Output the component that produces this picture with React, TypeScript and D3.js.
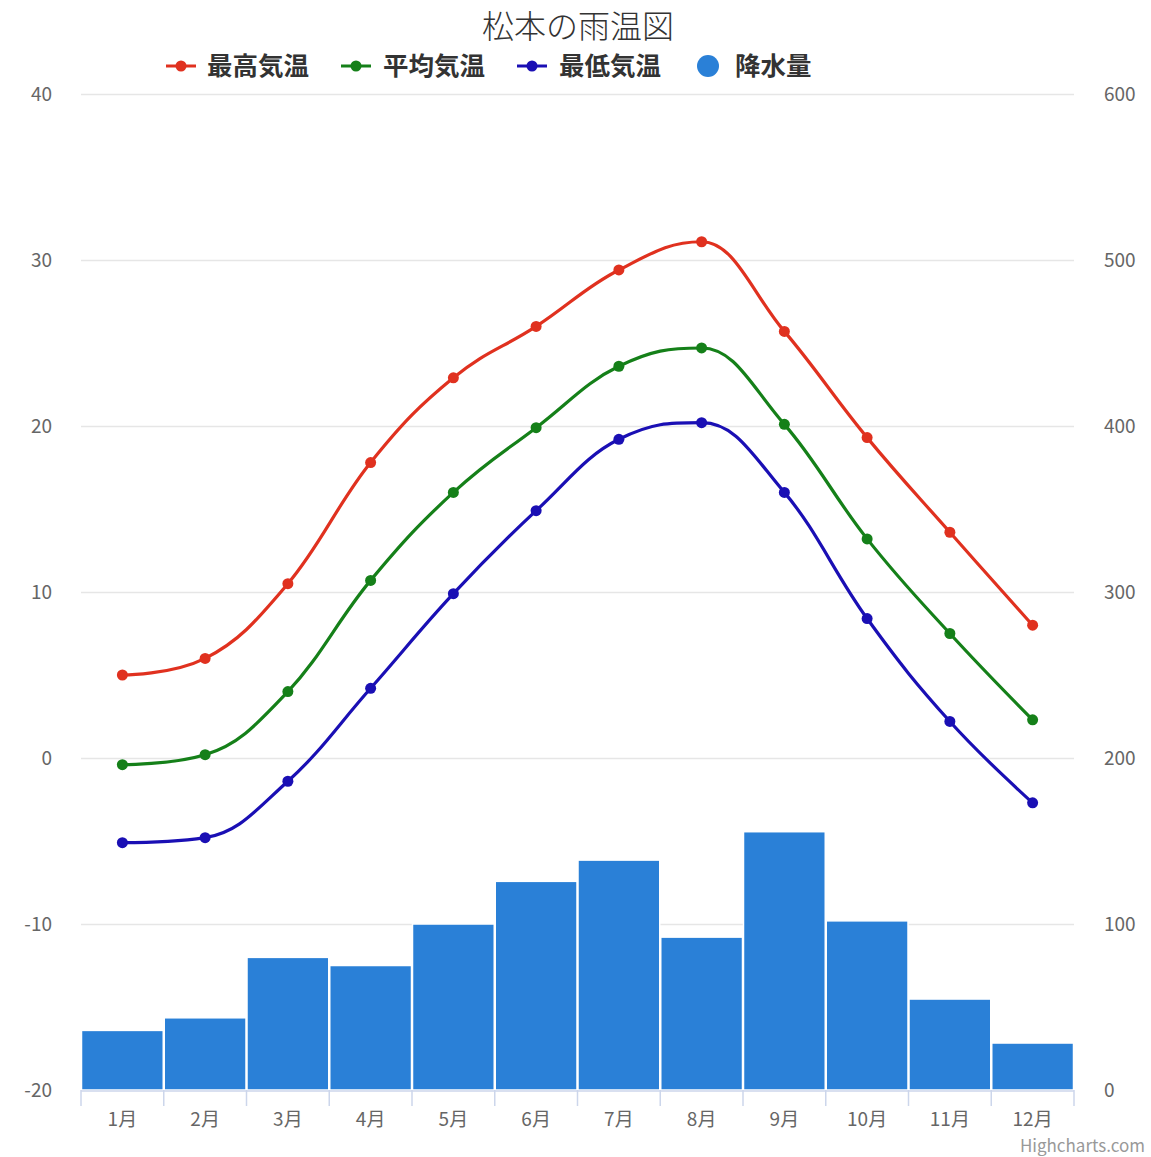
import React from "react";
import * as d3 from "d3";

const months = ["1月", "2月", "3月", "4月", "5月", "6月", "7月", "8月", "9月", "10月", "11月", "12月"];
const maxTemp = [5.0, 6.0, 10.5, 17.8, 22.9, 26.0, 29.4, 31.1, 25.7, 19.3, 13.6, 8.0];
const avgTemp = [-0.4, 0.2, 4.0, 10.7, 16.0, 19.9, 23.6, 24.7, 20.1, 13.2, 7.5, 2.3];
const minTemp = [-5.1, -4.8, -1.4, 4.2, 9.9, 14.9, 19.2, 20.2, 16.0, 8.4, 2.2, -2.7];
const precip = [35.9, 43.5, 79.9, 75.0, 100.0, 125.7, 138.5, 92.1, 155.6, 101.9, 54.8, 28.3];
const tempTicks = [-20, -10, 0, 10, 20, 30, 40];
const precipTicks = [0, 100, 200, 300, 400, 500, 600];

const lineSeries = [
  { name: "最高気温", data: maxTemp, color: "#e0311f" },
  { name: "平均気温", data: avgTemp, color: "#158019" },
  { name: "最低気温", data: minTemp, color: "#1a0fb4" },
];
const barColor = "#2a80d7";

const W = 1151;
const H = 1157;
const left = 81;
const right = 1074;
const top = 94;
const bottom = 1090;

const FONT = "'Noto Sans CJK JP', 'Noto Sans', sans-serif";

function splinePath(pts: [number, number][]): string {
  const smoothing = 1.5;
  const denom = smoothing + 1;
  const p = d3.path();
  const ctrl: { lx: number; ly: number; rx: number; ry: number }[] = pts.map(([x, y]) => ({ lx: x, ly: y, rx: x, ry: y }));
  for (let i = 1; i < pts.length - 1; i++) {
    const [lastX, lastY] = pts[i - 1];
    const [plotX, plotY] = pts[i];
    const [nextX, nextY] = pts[i + 1];
    const leftContX = (smoothing * plotX + lastX) / denom;
    let leftContY = (smoothing * plotY + lastY) / denom;
    const rightContX = (smoothing * plotX + nextX) / denom;
    let rightContY = (smoothing * plotY + nextY) / denom;
    if (rightContX !== leftContX) {
      const correction = ((rightContY - leftContY) * (rightContX - plotX)) / (rightContX - leftContX) + plotY - rightContY;
      leftContY += correction;
      rightContY += correction;
    }
    if (leftContY > lastY && leftContY > plotY) {
      leftContY = Math.max(lastY, plotY);
      rightContY = 2 * plotY - leftContY;
    } else if (leftContY < lastY && leftContY < plotY) {
      leftContY = Math.min(lastY, plotY);
      rightContY = 2 * plotY - leftContY;
    }
    if (rightContY > nextY && rightContY > plotY) {
      rightContY = Math.max(nextY, plotY);
      leftContY = 2 * plotY - rightContY;
    } else if (rightContY < nextY && rightContY < plotY) {
      rightContY = Math.min(nextY, plotY);
      leftContY = 2 * plotY - rightContY;
    }
    ctrl[i] = { lx: leftContX, ly: leftContY, rx: rightContX, ry: rightContY };
  }
  p.moveTo(pts[0][0], pts[0][1]);
  for (let i = 1; i < pts.length; i++) {
    p.bezierCurveTo(ctrl[i - 1].rx, ctrl[i - 1].ry, ctrl[i].lx, ctrl[i].ly, pts[i][0], pts[i][1]);
  }
  return p.toString();
}

export default function App() {
  const x = d3.scaleBand<string>().domain(months).range([left, right]).padding(0);
  const yT = d3.scaleLinear().domain([-20, 40]).range([bottom, top]);
  const yP = d3.scaleLinear().domain([0, 600]).range([bottom, top]);
  const bw = x.bandwidth();
  const cx = (m: string) => (x(m) as number) + bw / 2;

  const legendItems = [
    { ...lineSeries[0], sx: 166, tx: 207 },
    { ...lineSeries[1], sx: 341, tx: 383 },
    { ...lineSeries[2], sx: 517, tx: 559 },
  ];

  return (
    <div style={{ position: "absolute", left: 0, top: 0 }}>
      <svg width={W} height={H} xmlns="http://www.w3.org/2000/svg" style={{ display: "block", fontFamily: FONT }}>
        <rect x={0} y={0} width={W} height={H} fill="#ffffff" />
        {/* grid */}
        {tempTicks.filter((t) => t !== -20).map((t) => (
          <line key={t} x1={left} x2={right} y1={Math.round(yT(t)) + 0.5} y2={Math.round(yT(t)) + 0.5} stroke="#e6e6e6" strokeWidth={1.5} />
        ))}
        {/* bars */}
        {months.map((m, i) => (
          <rect
            key={m}
            x={(x(m) as number) + 0.5}
            y={yP(precip[i])}
            width={bw - 1}
            height={yP(0) - yP(precip[i])}
            fill={barColor}
            stroke="#ffffff"
            strokeWidth={1.5}
          />
        ))}
        {/* x axis */}
        <line x1={left} x2={right} y1={bottom + 1} y2={bottom + 1} stroke="#ccd6eb" strokeWidth={1.5} />
        {[...months.map((m) => x(m) as number), right].map((tx, i) => (
          <line key={i} x1={tx} x2={tx} y1={bottom} y2={bottom + 16} stroke="#ccd6eb" strokeWidth={1.5} />
        ))}
        {months.map((m) => (
          <text key={m} x={cx(m)} y={1126} textAnchor="middle" fontSize={19} fill="#666666">
            {m}
          </text>
        ))}
        {/* left axis labels */}
        {tempTicks.map((t) => (
          <text key={t} x={52} y={yT(t) + 7} textAnchor="end" fontSize={19} fill="#666666">
            {t}
          </text>
        ))}
        {/* right axis labels */}
        {precipTicks.map((t) => (
          <text key={t} x={1104} y={yP(t) + 7} textAnchor="start" fontSize={19} fill="#666666">
            {t}
          </text>
        ))}
        {/* lines */}
        {lineSeries.map((s) => {
          const pts: [number, number][] = s.data.map((v, i) => [cx(months[i]), yT(v)]);
          return (
            <g key={s.name}>
              <path d={splinePath(pts)} fill="none" stroke={s.color} strokeWidth={3.2} strokeLinejoin="round" strokeLinecap="round" />
              {pts.map(([px, py], i) => (
                <circle key={i} cx={px} cy={py} r={5.5} fill={s.color} />
              ))}
            </g>
          );
        })}
        {/* title */}
        <text x={578} y={38} textAnchor="middle" fontSize={32} fontWeight={300} fill="#333333">
          松本の雨温図
        </text>
        {/* legend */}
        {legendItems.map((l) => (
          <g key={l.name}>
            <line x1={l.sx} x2={l.sx + 30} y1={66} y2={66} stroke={l.color} strokeWidth={3} />
            <circle cx={l.sx + 15} cy={66} r={5.5} fill={l.color} />
            <text x={l.tx} y={75} fontSize={25.5} fontWeight="bold" fill="#333333">
              {l.name}
            </text>
          </g>
        ))}
        <circle cx={708} cy={66} r={11} fill={barColor} />
        <text x={735} y={75} fontSize={25.5} fontWeight="bold" fill="#333333">
          降水量
        </text>
        {/* credit */}
        <text x={1145} y={1152} textAnchor="end" fontSize={17} fill="#999999">
          Highcharts.com
        </text>
      </svg>
    </div>
  );
}
